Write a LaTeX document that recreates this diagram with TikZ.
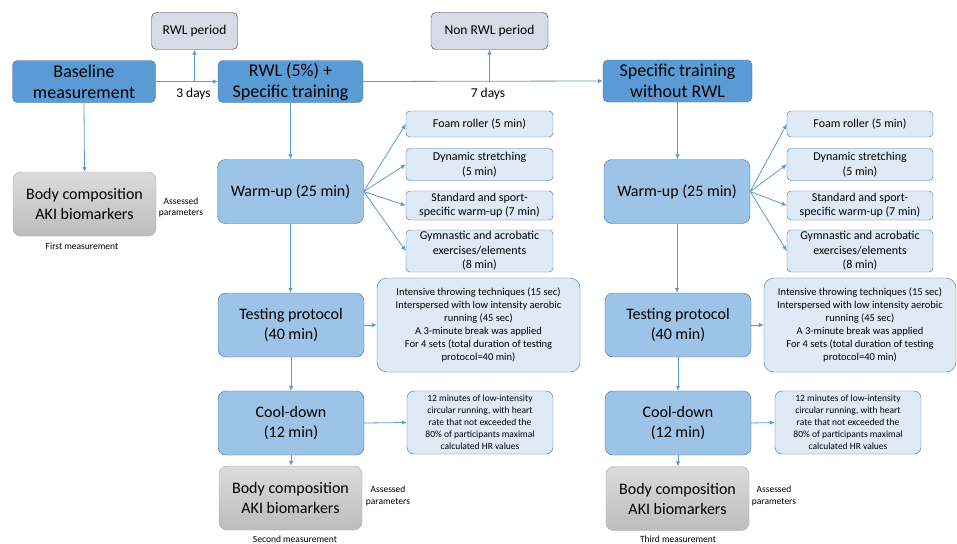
\documentclass[tikz,border=0pt]{standalone}
\usepackage{fontspec}
\setmainfont{Carlito}
\usepackage{tikz}
\usetikzlibrary{arrows.meta}
\definecolor{darkblue}{HTML}{5B9BD5}
\definecolor{midblue}{HTML}{9DC3E6}
\definecolor{paleblue}{HTML}{DEEBF7}
\definecolor{edgeblue}{HTML}{41719C}
\definecolor{periodgrey}{HTML}{D6DCE5}

\begin{document}
\begin{tikzpicture}[x=1pt, y=-1pt,
		topbox/.style={draw=edgeblue, fill=darkblue, rounded corners=5pt, minimum width=143pt, minimum height=42pt, inner sep=0pt, align=center, font=\fontsize{18}{21}\selectfont},
		stagebox/.style={draw=edgeblue, fill=midblue, rounded corners=8pt, minimum width=146pt, minimum height=64pt, inner sep=0pt, align=center, font=\fontsize{16}{20}\selectfont},
		itembox/.style={draw=edgeblue, fill=paleblue, rounded corners=4pt, minimum width=147pt, inner sep=0pt, align=center, font=\fontsize{12}{14.5}\selectfont},
		notebox/.style={draw=edgeblue, fill=paleblue, rounded corners=10pt, inner sep=0pt, align=center},
		periodbox/.style={draw=black!80, fill=periodgrey, rounded corners=5pt, minimum width=86pt, minimum height=37pt, inner sep=0pt, font=\fontsize{13.5}{16}\selectfont},
		bodybox/.style={draw=black!35, top color=black!14, bottom color=black!26, rounded corners=8pt, minimum width=143pt, minimum height=64pt, inner sep=0pt, align=center, font=\fontsize{16}{20}\selectfont},
		smalltxt/.style={align=center, inner sep=0pt, font=\fontsize{9.5}{11.5}\selectfont},
		daytxt/.style={inner sep=0pt, font=\fontsize{13.5}{16}\selectfont},
		arr/.style={draw=darkblue, line width=0.8pt, -{Latex[length=5pt,width=4.5pt]}}]
	\useasboundingbox (0,0) rectangle (957,543);

	% top row
	\node[topbox] (base) at (84,81.5) {Baseline\\measurement};
	\node[topbox, minimum width=145pt] (rwl) at (290.5,81.5) {RWL (5\%) +\\Specific training};
	\node[topbox, minimum width=149pt] (spec) at (677.5,81) {Specific training\\without RWL};
	\node[periodbox] (rwlper) at (194.5,31) {RWL period};
	\node[periodbox, minimum width=117pt] (nonper) at (489.5,31) {Non RWL period};
	\node[daytxt] (days3) at (193.5,94) {3 days};
	\node[daytxt] (days7) at (488,94) {7 days};
	\draw[arr] (base.east) -- (rwl.west);
	\draw[arr] (rwl.east) -- (spec.west);
	\draw[arr] (rwlper.south |- base.east) -- (rwlper.south);
	\draw[arr] (nonper.south |- rwl.east) -- (nonper.south);

	% first measurement
	\node[bodybox] (body1) at (84.5,204) {Body composition\\AKI biomarkers};
	\node[smalltxt] (par1) at (181,207.5) {Assessed\\parameters};
	\node[smalltxt] (meas1) at (82,246.5) {First measurement};
	\draw[arr] (base.south) -- (body1.north);

	% RWL column
	\node[stagebox] (warm1) at (290.5,191.5) {Warm-up (25 min)};
	\node[stagebox] (test1) at (291,325) {Testing protocol\\(40 min)};
	\node[stagebox] (cool1) at (291,423) {Cool-down\\(12 min)};
	\node[bodybox] (body2) at (290.5,498) {Body composition\\AKI biomarkers};
	\node[smalltxt] (par2) at (388,496) {Assessed\\parameters};
	\node[smalltxt] (meas2) at (295,539) {Second measurement};
	\node[itembox, minimum height=26pt] (foam1) at (479.5,124) {Foam roller (5 min)};
	\node[itembox, minimum height=32pt] (dyn1) at (479.5,164.5) {Dynamic stretching\\(5 min)};
	\node[itembox, minimum height=29pt] (std1) at (479.5,205.5) {Standard and sport-\\specific warm-up (7 min)};
	\node[itembox, minimum height=42pt] (gym1) at (479.5,251) {Gymnastic and acrobatic\\exercises/elements\\(8 min)};
	\node[notebox, minimum width=203pt, minimum height=94pt, font=\fontsize{10.5}{13}\selectfont] (tnote1) at (478.5,325) {Intensive throwing techniques (15 sec)\\Interspersed with low intensity aerobic\\running (45 sec)\\A 3-minute break was applied\\For 4 sets (total duration of testing\\protocol=40 min)};
	\node[notebox, rounded corners=7pt, minimum width=146pt, minimum height=63pt, font=\fontsize{9.5}{12}\selectfont] (cnote1) at (480,422.5) {12 minutes of low-intensity\\circular running, with heart\\rate that not exceeded the\\80\% of participants maximal\\calculated HR values};
	\draw[arr] (rwl.south) -- (warm1.north);
	\draw[arr] (warm1.south) -- (test1.north -| warm1.south);
	\draw[arr] (test1.south) -- (cool1.north);
	\draw[arr] (cool1.south) -- (body2.north -| cool1.south);
	\foreach \it in {foam1,dyn1,std1,gym1}
		\draw[arr] (warm1.east) -- (\it.west);
	\draw[arr] (test1.east) -- (tnote1.west);
	\draw[arr] (cool1.east) -- (cnote1.west);

	% non RWL column
	\node[stagebox] (warm2) at (677,191.5) {Warm-up (25 min)};
	\node[stagebox] (test2) at (678,325) {Testing protocol\\(40 min)};
	\node[stagebox] (cool2) at (678,423) {Cool-down\\(12 min)};
	\node[bodybox] (body3) at (677.5,498.5) {Body composition\\AKI biomarkers};
	\node[smalltxt] (par3) at (774,496) {Assessed\\parameters};
	\node[smalltxt] (meas3) at (678,539) {Third measurement};
	\node[itembox, minimum width=146pt, minimum height=26pt] (foam2) at (860,124) {Foam roller (5 min)};
	\node[itembox, minimum width=146pt, minimum height=32pt] (dyn2) at (860,164.5) {Dynamic stretching\\(5 min)};
	\node[itembox, minimum width=146pt, minimum height=29pt] (std2) at (860,205.5) {Standard and sport-\\specific warm-up (7 min)};
	\node[itembox, minimum width=146pt, minimum height=42pt] (gym2) at (860,251) {Gymnastic and acrobatic\\exercises/elements\\(8 min)};
	\node[notebox, minimum width=192pt, minimum height=94pt, font=\fontsize{10.5}{13}\selectfont] (tnote2) at (860,325) {Intensive throwing techniques (15 sec)\\Interspersed with low intensity aerobic\\running (45 sec)\\A 3-minute break was applied\\For 4 sets (total duration of testing\\protocol=40 min)};
	\node[notebox, rounded corners=7pt, minimum width=146pt, minimum height=63pt, font=\fontsize{9.5}{12}\selectfont] (cnote2) at (848,422.5) {12 minutes of low-intensity\\circular running, with heart\\rate that not exceeded the\\80\% of participants maximal\\calculated HR values};
	\draw[arr] (spec.south) -- (warm2.north -| spec.south);
	\draw[arr] (warm2.south) -- (test2.north -| warm2.south);
	\draw[arr] (test2.south) -- (cool2.north);
	\draw[arr] (cool2.south) -- (body3.north -| cool2.south);
	\foreach \it in {foam2,dyn2,std2,gym2}
		\draw[arr] (warm2.east) -- (\it.west);
	\draw[arr] (test2.east) -- (tnote2.west);
	\draw[arr] (cool2.east) -- (cnote2.west);
\end{tikzpicture}
\end{document}
